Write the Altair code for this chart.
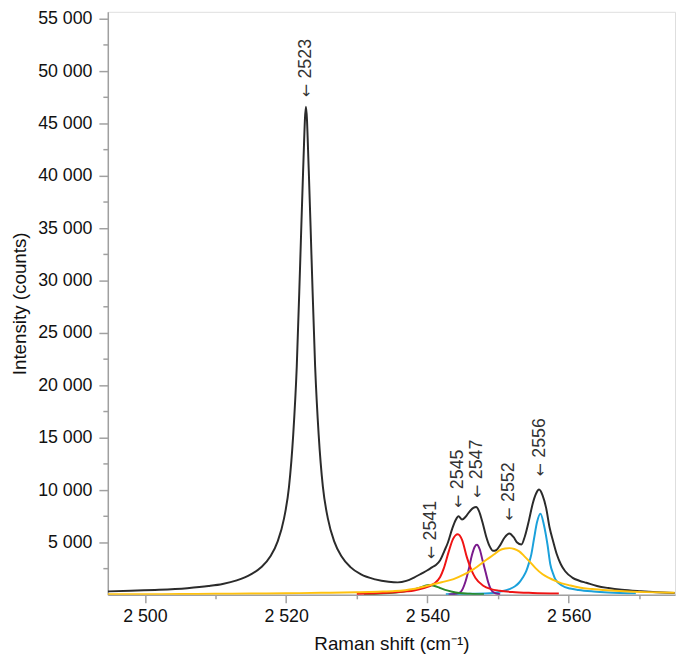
import altair as alt
import pandas as pd

# ---- data (Raman shift in cm-1, intensity in counts) ----
sum_x = [2494.75, 2498, 2502, 2506, 2509, 2511, 2513, 2515, 2516.5, 2517.8, 2518.8, 2519.7,
         2520.4, 2521.0, 2521.5, 2522.0, 2522.4, 2522.8, 2523.2, 2523.6, 2524.1, 2524.6,
         2525.2, 2525.9, 2526.8, 2527.8, 2529.1, 2530.6, 2532.6, 2534.5, 2535.8, 2537,
         2538.1, 2539.2, 2540.0, 2540.7, 2541.2, 2541.8, 2542.4, 2542.9, 2543.5, 2544.0,
         2544.4, 2544.9, 2545.4, 2545.9, 2546.5, 2546.9, 2547.3, 2547.8, 2548.3, 2548.8,
         2549.3, 2549.8, 2550.3, 2550.9, 2551.6, 2552.2, 2552.7, 2553.3, 2553.8, 2554.4,
         2554.9, 2555.4, 2555.8, 2556.3, 2556.8, 2557.3, 2557.8, 2558.3, 2558.9, 2559.5,
         2560.5, 2561.5, 2562.5, 2564, 2565.6, 2567.5, 2570.2, 2572.5, 2575]
sum_y = [330, 390, 480, 640, 840, 1040, 1380, 1950, 2650, 3700, 5100, 7300,
         10300, 15300, 21800, 32000, 40500, 46600, 40500, 32000, 21800, 15300,
         10300, 7300, 5100, 3700, 2650, 1950, 1480, 1250, 1190, 1330,
         1650, 2050, 2350, 2650, 2850, 3300, 4200, 5000, 6300, 7150,
         7500, 7200, 7450, 7900, 8300, 8380, 8000, 6900, 5600, 4650,
         4200, 4300, 4750, 5450, 5850, 5500, 5000, 4800, 5600, 7200,
         8700, 9700, 10050, 9500, 8300, 6400, 5100, 3900, 2900, 2250,
         1650, 1350, 1150, 850, 650, 480, 340, 250, 180]

cyan_x = [2542.6, 2546, 2549.3, 2550.5, 2551.6, 2552.4, 2553.0, 2553.5, 2554.0, 2554.4, 2554.7,
          2555.1, 2555.5, 2556.0, 2556.5, 2557.0, 2557.4, 2557.8, 2558.1, 2559.1, 2560.2,
          2561.4, 2563.5, 2565.6, 2569.5]
cyan_y = [60, 100, 180, 330, 550, 820, 1180, 1650, 2280, 3100, 3840,
          5400, 6900, 7750, 6650, 4780, 2900, 2000, 1490, 870, 600,
          460, 320, 230, 140]

purple_x = [2543.0, 2544.0, 2544.7, 2545.4, 2545.9, 2546.3, 2546.7, 2547.0, 2547.4, 2547.8,
            2548.2, 2548.6, 2549.0, 2549.5, 2550.3]
purple_y = [30, 100, 280, 1300, 2600, 3800, 4600, 4780, 4350, 3300,
            2250, 1200, 500, 180, 50]

green_x = [2531, 2533, 2535.5, 2537.5, 2538.8, 2539.6, 2540.2, 2540.9, 2541.7, 2542.5,
           2543.5, 2544.5, 2546, 2548]
green_y = [60, 110, 220, 420, 650, 850, 930, 870, 680, 470,
           300, 180, 100, 50]

red_x = [2530, 2533, 2535.4, 2537, 2538.1, 2539.5, 2540.9, 2541.8, 2542.3, 2543.0, 2543.6,
         2544.3, 2544.9, 2545.6, 2546.2, 2546.8, 2547.9, 2549, 2550.2, 2552, 2554.9, 2558.6]
red_y = [80, 150, 240, 330, 420, 650, 1050, 1700, 2500, 4100, 5300,
         5780, 5250, 3550, 2400, 1600, 870, 550, 400, 270, 180, 130]

yellow_x = [2494.75, 2500, 2505, 2510, 2515, 2520, 2525, 2530, 2533, 2535.4, 2538, 2540,
            2542, 2543.7, 2545.2, 2546.5, 2548.4, 2549.4, 2550.2, 2551.0, 2551.6, 2552.3,
            2553.0, 2553.7, 2554.4, 2555.3, 2556.3, 2557.2, 2558.1, 2559, 2560.0, 2561.5,
            2563.3, 2565.5, 2567.9, 2571, 2575]
yellow_y = [50, 60, 75, 95, 120, 150, 190, 250, 300, 360, 560, 870,
            1200, 1500, 1950, 2430, 3370, 3850, 4250, 4420, 4460, 4380,
            4150, 3700, 3220, 2550, 1960, 1620, 1340, 1100, 930, 700,
            550, 430, 340, 260, 190]

series = [
    ("sum", sum_x, sum_y, "#2b2b2b"),
    ("2556", cyan_x, cyan_y, "#1ba1db"),
    ("2547", purple_x, purple_y, "#7a1a8c"),
    ("2541", green_x, green_y, "#2a8a2a"),
    ("2545", red_x, red_y, "#f01414"),
    ("2552", yellow_x, yellow_y, "#ffc20e"),
]

peak_labels = ["2523", "2541", "2545", "2547", "2552", "2556"]
peak_x = [2522.75, 2540.5, 2544.3, 2547.0, 2551.6, 2555.9]
peak_y = [47500, 3400, 8300, 9250, 7080, 11300]

x_ticks = [2500, 2510, 2520, 2530, 2540, 2550, 2560, 2570]
y_ticks = [2500, 5000, 7500, 10000, 12500, 15000, 17500, 20000, 22500, 25000, 27500,
           30000, 32500, 35000, 37500, 40000, 42500, 45000, 47500, 50000, 52500, 55000]

FONT = "Liberation Sans"
AXIS_GRAY = "#a0a0a0"

xscale = alt.Scale(domain=[2494.75, 2575.05], nice=False, zero=False)
yscale = alt.Scale(domain=[0, 55660], nice=False, zero=False)

x_axis = alt.Axis(
    values=x_ticks,
    labelExpr="datum.value % 20 === 0 ? replace(format(datum.value, ','), ',', ' ') : ''",
    tickSize={"condition": {"test": "datum.value % 20 === 0", "value": 8}, "value": 4},
    title="Raman shift (cm⁻¹)",
    grid=False,
    labelFont=FONT, labelFontSize=18, labelColor="#111111", labelPadding=5,
    titleFont=FONT, titleFontSize=19, titleFontWeight="normal", titleColor="#111111",
    titleY=40, titleBaseline="top",
    domainColor=AXIS_GRAY, domainWidth=1.5, tickColor=AXIS_GRAY, tickWidth=1.5,
)
y_axis = alt.Axis(
    values=y_ticks,
    labelExpr="datum.value % 5000 === 0 ? replace(format(datum.value, ','), ',', ' ') : ''",
    tickSize={"condition": {"test": "datum.value % 5000 === 0", "value": 9}, "value": 5},
    title="Intensity (counts)",
    grid=False,
    labelFont=FONT, labelFontSize=18, labelColor="#111111", labelPadding=7,
    titleFont=FONT, titleFontSize=19, titleFontWeight="normal", titleColor="#111111",
    titleX=-79, titleBaseline="bottom",
    domainColor=AXIS_GRAY, domainWidth=1.5, tickColor=AXIS_GRAY, tickWidth=1.5,
)

X = alt.X("x:Q", scale=xscale, axis=x_axis)
Y = alt.Y("y:Q", scale=yscale, axis=y_axis)

layers = []
for name, xs, ys, col in series:
    df = pd.DataFrame({"x": xs, "y": ys})
    layers.append(
        alt.Chart(df).mark_line(color=col, strokeWidth=2, interpolate="monotone", clip=True)
        .encode(x=X, y=Y)
    )

lab_df = pd.DataFrame({"x": peak_x, "y": peak_y, "t": peak_labels, "a": ["←"] * len(peak_labels)})
arrows = alt.Chart(lab_df).mark_text(
    angle=270, align="left", baseline="middle", font="DejaVu Sans", fontSize=16, color="#333333"
).encode(x=X, y=Y, text="a:N")
labels = alt.Chart(lab_df).mark_text(
    angle=270, align="left", baseline="middle", font=FONT, fontSize=18, color="#333333", dx=19
).encode(x=X, y=Y, text="t:N")
layers += [arrows, labels]

chart = alt.layer(*layers).properties(
    width=574, height=590,
    autosize=alt.AutoSizeParams(type="none"),
    padding={"left": 101, "top": 0, "right": 2, "bottom": 56},
).configure_view(stroke=AXIS_GRAY, strokeWidth=1.5).configure(background="white")

chart.save("out.html", embed_options={"renderer": "svg", "actions": False})
